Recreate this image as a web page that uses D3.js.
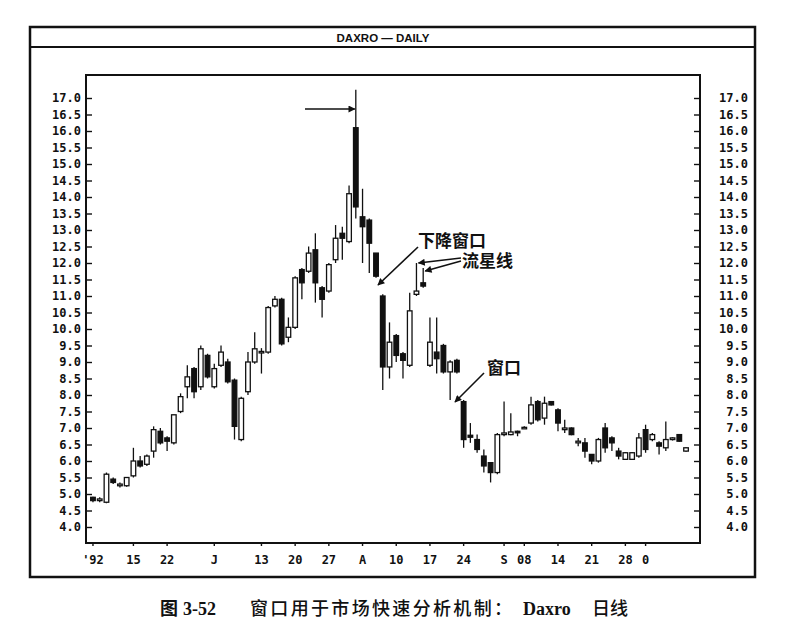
<!DOCTYPE html>
<html>
<head>
<meta charset="utf-8">
<script src="https://cdn.jsdelivr.net/npm/d3@7/dist/d3.min.js"></script>
<style>
  body { margin: 0; background: #fff; }
  svg { display: block; }
  .ax text { font-family: "DejaVu Sans Mono", monospace; font-weight: bold; font-size: 12px; fill: #111; }
  .ax line { stroke: #111; stroke-width: 1.4; }
</style>
</head>
<body>
<svg id="chart" width="805" height="644"></svg>
<script>
// daily candles, Daxro 1992
const opens = [4.9, 4.8, 4.75, 5.45, 5.25, 5.25, 5.55, 6.0, 5.9, 6.3, 6.9, 6.7, 6.55, 7.5, 8.25, 8.8, 8.25, 9.2, 8.25, 8.9,
  9.0, 8.45, 6.65, 8.1, 9.0, 9.3, 9.3, 10.7, 10.9, 9.75, 10.05, 11.8, 11.75, 12.4, 11.25, 11.15, 12.1, 12.9, 12.65, 16.1,
  13.4, 13.3, 12.3, 11.0, 8.85, 9.8, 9.25, 8.9, 11.05, 11.4, 8.9, 9.3, 9.5, 8.7, 9.05, 7.8, 6.78, 6.65, 6.15, 5.95,
  5.65, 6.8, 6.8, 6.9, 7.0, 7.15, 7.8, 7.3, 7.8, 7.55, 6.95, 7.0, 6.55, 6.55, 6.2, 6.0, 7.0, 6.7, 6.3, 6.05,
  6.05, 6.15, 6.95, 6.65, 6.55, 6.4, 6.65, 6.8, 6.3];
const highs = [4.92, 4.9, 5.65, 5.5, 5.35, 5.5, 6.4, 6.15, 6.2, 7.05, 7.0, 6.75, 7.4, 8.05, 8.9, 8.85, 9.5, 9.25, 8.95, 9.5,
  9.1, 8.5, 7.95, 9.3, 9.9, 9.42, 10.7, 11.0, 10.95, 10.35, 11.6, 11.85, 12.5, 12.9, 11.3, 12.0, 13.15, 13.1, 14.35, 17.25,
  14.25, 13.35, 12.3, 11.05, 10.2, 9.85, 9.3, 11.1, 12.0, 11.85, 10.35, 10.35, 9.55, 9.05, 9.1, 7.85, 7.15, 6.8, 6.35, 5.95,
  6.85, 7.8, 7.45, 6.92, 7.05, 7.95, 7.85, 7.95, 7.82, 7.6, 7.25, 7.02, 6.7, 6.7, 6.2, 6.7, 7.15, 6.75, 6.4, 6.27,
  6.27, 6.85, 7.1, 6.85, 6.6, 7.2, 6.72, 6.82, 6.42];
const lows = [4.75, 4.75, 4.72, 5.3, 5.2, 5.22, 5.5, 5.8, 5.85, 6.1, 6.5, 6.3, 6.5, 7.45, 7.9, 7.9, 8.15, 8.5, 8.2, 8.85,
  8.35, 6.65, 6.6, 8.0, 8.95, 8.65, 9.25, 10.65, 9.5, 9.6, 10.0, 10.9, 11.7, 10.8, 10.35, 11.1, 12.0, 12.1, 12.6, 13.35,
  12.0, 11.7, 11.55, 8.15, 8.5, 9.0, 8.5, 8.85, 11.0, 11.25, 8.85, 8.65, 8.65, 7.85, 8.65, 6.4, 6.55, 6.25, 5.65, 5.35,
  5.6, 6.75, 6.78, 6.75, 7.0, 7.1, 7.2, 7.1, 7.68, 6.9, 6.85, 6.78, 6.45, 6.1, 5.9, 5.95, 6.25, 6.3, 6.05, 6.03,
  6.03, 6.1, 6.25, 6.6, 6.2, 6.3, 6.62, 6.58, 6.28];
const closes = [4.8, 4.85, 5.6, 5.35, 5.3, 5.5, 6.0, 5.85, 6.15, 6.95, 6.55, 6.6, 7.4, 7.95, 8.55, 8.1, 9.4, 8.55, 8.8, 9.3,
  8.4, 7.05, 7.9, 9.0, 9.4, 9.32, 10.65, 10.9, 9.55, 10.05, 11.55, 11.4, 12.3, 11.4, 10.9, 11.95, 12.75, 12.75, 14.1, 13.7,
  13.1, 12.6, 11.6, 8.85, 9.6, 9.2, 9.05, 10.55, 11.15, 11.3, 9.6, 9.1, 8.7, 9.0, 8.7, 6.65, 6.72, 6.35, 5.85, 5.65,
  6.8, 6.85, 6.88, 6.88, 7.02, 7.7, 7.25, 7.75, 7.7, 7.15, 7.0, 6.8, 6.6, 6.3, 6.0, 6.65, 6.4, 6.55, 6.15, 6.25,
  6.25, 6.7, 6.35, 6.8, 6.45, 6.65, 6.7, 6.6, 6.4];

const tickIdx = [0, 6, 11, 18, 25, 30, 35, 40, 45, 50, 55, 61, 64, 69, 74, 79, 82];
const tickLabels = ["'92", "15", "22", "J", "13", "20", "27", "A", "10", "17", "24", "S", "08", "14", "21", "28", "0"];
const priceTicks = d3.range(4, 17.01, 0.5);

const svg = d3.select("#chart");
const plot = { left: 86, right: 700, top: 75, bottom: 543 };

const x = d3.scaleBand().domain(d3.range(opens.length)).range([89.6, 689.4]);
const y = d3.scaleLinear().domain([4, 17]).range([527, 98]);

// outer frame + title bar
svg.append("rect").attr("x", 30).attr("y", 27).attr("width", 725).attr("height", 550)
  .attr("fill", "none").attr("stroke", "#111").attr("stroke-width", 2.5);
svg.append("line").attr("x1", 30).attr("x2", 755).attr("y1", 47).attr("y2", 47)
  .attr("stroke", "#111").attr("stroke-width", 2);
svg.append("text").attr("x", 383).attr("y", 42).attr("text-anchor", "middle")
  .attr("font-family", "Liberation Sans, Arial, sans-serif").attr("font-weight", "bold")
  .attr("font-size", 11.5).attr("fill", "#111").text("DAXRO — DAILY");

// axes
const yl = svg.append("g").attr("class", "ax").attr("transform", `translate(${plot.left},0)`)
  .call(d3.axisLeft(y).tickValues(priceTicks).tickFormat(d3.format(".1f")).tickSizeInner(-6).tickSizeOuter(0).tickPadding(5));
yl.select(".domain").remove();

const yr = svg.append("g").attr("class", "ax").attr("transform", `translate(${plot.right},0)`)
  .call(d3.axisRight(y).tickValues(priceTicks).tickFormat(d3.format(".1f")).tickSizeInner(-6).tickSizeOuter(0).tickPadding(5));
yr.select(".domain").remove();
yr.selectAll("text").attr("text-anchor", "end").attr("x", 48);

const xb = svg.append("g").attr("class", "ax").attr("transform", `translate(0,${plot.bottom})`)
  .call(d3.axisBottom(x).tickValues(tickIdx).tickFormat((d, i) => tickLabels[i]).tickSizeInner(3).tickSizeOuter(0).tickPadding(9));
xb.select(".domain").remove();

svg.append("rect").attr("x", plot.left).attr("y", plot.top)
  .attr("width", plot.right - plot.left).attr("height", plot.bottom - plot.top)
  .attr("fill", "none").attr("stroke", "#111").attr("stroke-width", 2);

// candles
const candles = d3.range(opens.length).map((i) => ({ i, o: opens[i], h: highs[i], l: lows[i], c: closes[i] }));
const bw = 4.6;
const cx = (d) => x(d.i) + x.bandwidth() / 2;

const g = svg.append("g");
g.selectAll("line.wick").data(candles).join("line").attr("class", "wick")
  .attr("x1", cx).attr("x2", cx)
  .attr("y1", (d) => y(d.h)).attr("y2", (d) => y(d.l))
  .attr("stroke", "#111").attr("stroke-width", 1.3);

g.selectAll("rect.body").data(candles).join("rect").attr("class", "body")
  .attr("x", (d) => cx(d) - bw / 2)
  .attr("y", (d) => y(Math.max(d.o, d.c)))
  .attr("width", bw)
  .attr("height", (d) => Math.max(1.5, Math.abs(y(d.o) - y(d.c))))
  .attr("fill", (d) => (d.c >= d.o ? "#fff" : "#111"))
  .attr("stroke", "#111").attr("stroke-width", 1.3);

// annotations
const defs = svg.append("defs");
defs.append("marker").attr("id", "arr").attr("viewBox", "0 0 10 10").attr("refX", 9).attr("refY", 5)
  .attr("markerWidth", 9).attr("markerHeight", 7).attr("markerUnits", "userSpaceOnUse").attr("orient", "auto")
  .append("path").attr("d", "M0,0 L10,5 L0,10 Z").attr("fill", "#111");

const arrow = (x1, y1, x2, y2) =>
  svg.append("line").attr("x1", x1).attr("y1", y1).attr("x2", x2).attr("y2", y2)
    .attr("stroke", "#111").attr("stroke-width", 1.6).attr("marker-end", "url(#arr)");

arrow(305, 109, cx(candles[39]) - 1, 109);
arrow(418, 247, 378, 285);
arrow(461, 258, cx(candles[48]) + 2, y(highs[48]));
arrow(461, 261, cx(candles[49]) + 2, y(highs[49]) + 3);
arrow(484, 373, 455, 402);

const cjk = (tx, ty, s) => svg.append("text").attr("x", tx).attr("y", ty)
  .attr("font-family", "Noto Sans CJK SC, sans-serif").attr("font-weight", "bold")
  .attr("font-size", 17).attr("fill", "#111").text(s);
cjk(418, 247, "下降窗口");
cjk(462, 267, "流星线");
cjk(487, 374, "窗口");

// caption
const cap = svg.append("text").attr("y", 615).attr("fill", "#111").attr("font-size", 18);
cap.append("tspan").attr("x", 160).attr("font-family", "Noto Sans CJK SC, sans-serif").attr("font-weight", "bold").text("图");
cap.append("tspan").attr("x", 183).attr("font-family", "Liberation Serif, serif").attr("font-weight", "bold").text("3-52");
cap.append("tspan").attr("x", 250).attr("font-family", "Noto Sans CJK SC, sans-serif").attr("font-weight", 500)
  .attr("textLength", 262).attr("lengthAdjust", "spacing").text("窗口用于市场快速分析机制：");
cap.append("tspan").attr("x", 523).attr("font-family", "Liberation Serif, serif").attr("font-weight", "bold").text("Daxro");
cap.append("tspan").attr("x", 592).attr("font-family", "Noto Sans CJK SC, sans-serif").attr("font-weight", 500).text("日线");
</script>
</body>
</html>
